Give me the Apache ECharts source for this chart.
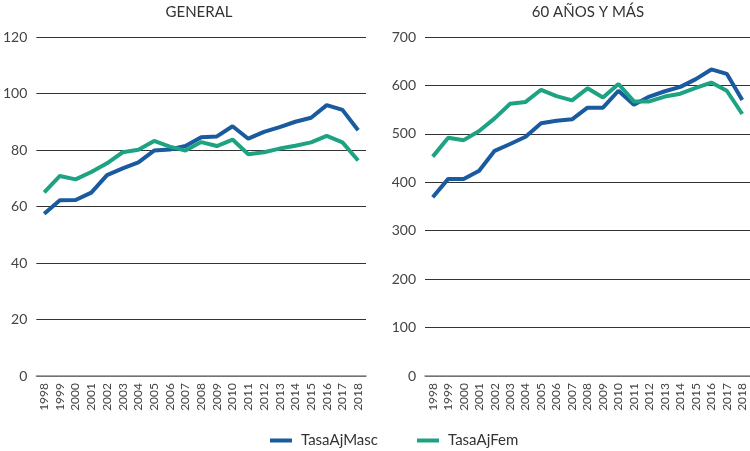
<!DOCTYPE html>
<html>
<head>
<meta charset="utf-8">
<script src="https://cdn.jsdelivr.net/npm/echarts@6/dist/echarts.min.js"></script>
<style>html,body{margin:0;padding:0;background:#fff}#c{width:750px;height:451px}</style>
</head>
<body>
<div id="c"></div>
<script>
const years = ['1998','1999','2000','2001','2002','2003','2004','2005','2006','2007','2008','2009','2010','2011','2012','2013','2014','2015','2016','2017','2018'];
const generalMasc = [57.4,62.2,62.3,64.9,71.1,73.5,75.6,79.8,80.2,81.4,84.5,84.8,88.4,84.0,86.4,88.1,90.0,91.4,95.9,94.2,87.0];
const generalFem = [65.0,70.8,69.6,72.2,75.3,79.2,80.1,83.2,81.2,79.8,82.8,81.4,83.7,78.5,79.2,80.5,81.5,82.7,85.0,82.7,76.3];
const mayoresMasc = [369,407,407,424,465,479,494,522,527,530,554,554,589,560,577,588,597,613,633,624,570];
const mayoresFem = [453,492,487,506,532,562,566,591,578,569,594,575,603,567,567,577,583,595,606,589,541];
const titles = ['GENERAL','60 AÑOS Y MÁS'];
const seriesNames = ['TasaAjMasc','TasaAjFem'];
const colors = ['#1a5a9e','#1ea382'];

const font = 'Lato, "Open Sans", sans-serif';
const chart = echarts.init(document.getElementById('c'), null, {renderer:'canvas'});
function xAxis(idx){
  return {type:'category', gridIndex:idx, data:years, boundaryGap:true,
    axisLine:{show:true, lineStyle:{color:'#888', width:1.5}},
    axisTick:{show:false},
    axisLabel:{rotate:90, interval:0, color:'#444', fontSize:12, fontFamily:font, margin:7}};
}
function yAxis(idx, max, interval){
  return {type:'value', gridIndex:idx, min:0, max:max, interval:interval,
    axisLine:{show:false}, axisTick:{show:false},
    axisLabel:{color:'#444', fontSize:14, fontFamily:font, margin:9},
    splitLine:{lineStyle:{color:'#333', width:1.2}}};
}
function line(name, data, idx, color){
  return {name:name, type:'line', xAxisIndex:idx, yAxisIndex:idx, data:data,
    symbol:'none', lineStyle:{width:4, color:color}, itemStyle:{color:color}, z:3};
}
function titleText(text, x){
  return {type:'text', x:x, y:12, style:{text:text, align:'center', verticalAlign:'middle',
    font:'15px ' + font, fill:'#333'}};
}
chart.setOption({
  animation:false,
  graphic:[titleText(titles[0], 199), titleText(titles[1], 588)],
  grid:[
    {left:31, top:37, width:335, height:339},
    {left:425, top:37, width:325, height:339}
  ],
  xAxis:[xAxis(0), xAxis(1)],
  yAxis:[yAxis(0,120,20), yAxis(1,700,100)],
  legend:{data:seriesNames, top:428, left:265, itemWidth:22, itemHeight:4, itemGap:39,
    icon:'rect', textStyle:{fontFamily:font, fontSize:15, color:'#333', padding:[0,0,0,4]}},
  series:[
    line(seriesNames[0], generalMasc, 0, colors[0]),
    line(seriesNames[1], generalFem, 0, colors[1]),
    line(seriesNames[0], mayoresMasc, 1, colors[0]),
    line(seriesNames[1], mayoresFem, 1, colors[1])
  ]
});
</script>
</body>
</html>
